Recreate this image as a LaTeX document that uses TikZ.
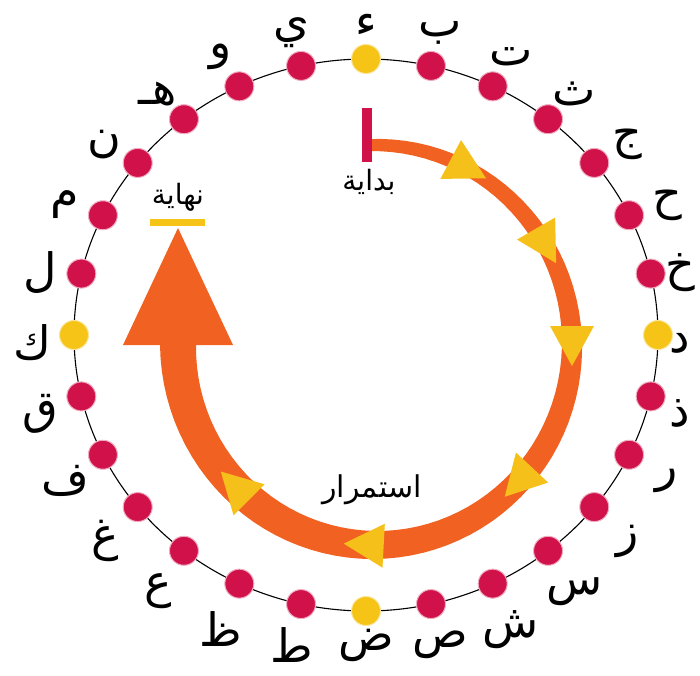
\documentclass[tikz,border=0pt]{standalone}
\usepackage{fontspec}
\newfontfamily\arabicfont[Script=Arabic]{DejaVu Sans}
\TeXXeTstate=1
\definecolor{dotred}{RGB}{209,17,74}
\definecolor{dotyellow}{RGB}{246,196,22}
\definecolor{arroworange}{RGB}{241,98,34}
\definecolor{markyellow}{RGB}{246,192,26}
\tikzset{
  letterdot/.style={circle,fill=dotred,draw=dotred!35,line width=1pt,minimum size=29pt,inner sep=0pt},
  keydot/.style={letterdot,fill=dotyellow,draw=dotyellow!45},
  letter/.style={font=\arabicfont\fontsize{46}{50}\selectfont,inner sep=0pt},
  tag/.style={font=\arabicfont\fontsize{28}{32}\selectfont,inner sep=0pt},
  marker/.style={fill=markyellow},
}

\begin{document}
\begin{tikzpicture}[x=1pt,y=1pt]
  \useasboundingbox (-366,-340) rectangle (334,335);

  % the ring of letters
  \draw[line width=1.1pt] (0,0) ellipse [x radius=292,y radius=276];
  \foreach \l [count=\i from 0] in {ء,ب,ت,ث,ج,ح,خ,د,ذ,ر,ز,س,ش,ص,ض,ط,ظ,ع,غ,ف,ق,ك,ل,م,ن,هـ,و,ي}{
    \pgfmathsetmacro\a{90-\i*360/28}
    \pgfmathtruncatemacro\k{mod(\i,7)}
    \ifnum\k=0
      \node[keydot] (D\i) at ({292*cos(\a)},{276*sin(\a)}) {};
    \else
      \node[letterdot] (D\i) at ({292*cos(\a)},{276*sin(\a)}) {};
    \fi
    \node[letter] (L\i) at ({min(334*cos(\a),314)},{max(318*sin(\a)-8,-310)}) {\l};
  }

  % the tapered orange path
  \fill[arroworange]
    plot[domain=92:-180,samples=80,variable=\t]
      ({9+(197+(12+24*(92-\t)/272)/2)*cos(\t)},{-10+(200+(12+24*(92-\t)/272)/2)*sin(\t)})
    -- plot[domain=-180:92,samples=80,variable=\t]
      ({9+(197-(12+24*(92-\t)/272)/2)*cos(\t)},{-10+(200-(12+24*(92-\t)/272)/2)*sin(\t)})
    -- cycle;
  \coordinate (tip) at (-188,107);
  \fill[arroworange] (-243,-10) -- (tip) -- (-133,-10) -- cycle;

  \foreach \a in {62,30,0,-43,-93,-135}{
    \begin{scope}[shift={({9+197*cos(\a)},{-10+200*sin(\a)})},rotate=\a-90]
      \fill[marker] (21,0) -- (-19,22) -- (-19,-22) -- cycle;
    \end{scope}
  }

  \node[fill=dotred,minimum width=10pt,minimum height=54pt,inner sep=0pt] (start) at (1,200) {};
  \node[tag] (startlabel) at (3,153) {\beginR بداية\endR};
  \node[fill=dotyellow,minimum width=55pt,minimum height=7pt,inner sep=0pt] (finish) at (-188,113) {};
  \node[tag] (finishlabel) at (-188,138) {\beginR نهاية\endR};
  \node[tag,font=\arabicfont\fontsize{30}{34}\selectfont] (middle) at (6,-155) {\beginR استمرار\endR};
\end{tikzpicture}
\end{document}
